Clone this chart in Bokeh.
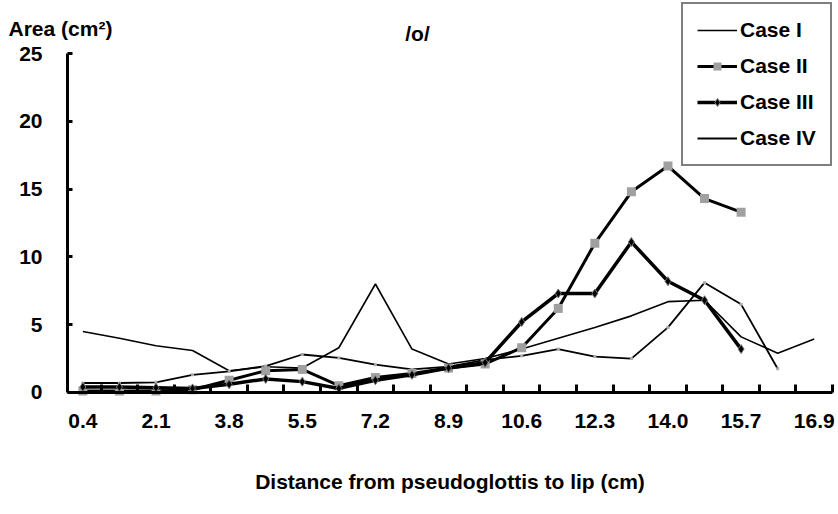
from bokeh.plotting import figure
from bokeh.models import (Range1d, FixedTicker, Legend, LegendItem, Label)
from bokeh.embed import file_html
from bokeh.resources import INLINE

# ---- data ----
tick_labels = ["0.4", "2.1", "3.8", "5.5", "7.2", "8.9", "10.6", "12.3", "14.0", "15.7", "16.9"]
y_ticks = [0, 5, 10, 15, 20, 25]

case1 = [4.5, 4.0, 3.45, 3.1, 1.6, 1.9, 1.8, 3.3, 8.0, 3.2, 2.1, 2.5, 3.2, 4.0, 4.8, 5.65, 6.7, 6.8, 4.1, 2.9, 3.95]
case2 = [0.1, 0.1, 0.1, 0.2, 0.9, 1.6, 1.7, 0.5, 1.1, 1.4, 1.8, 2.1, 3.3, 6.2, 11.0, 14.8, 16.7, 14.3, 13.3]
case3 = [0.4, 0.4, 0.35, 0.3, 0.6, 1.0, 0.8, 0.3, 0.9, 1.3, 1.8, 2.2, 5.2, 7.3, 7.3, 11.1, 8.2, 6.8, 3.2]
case4 = [0.7, 0.7, 0.75, 1.3, 1.55, 1.95, 2.8, 2.55, 2.05, 1.7, 1.9, 2.4, 2.7, 3.2, 2.65, 2.5, 4.8, 8.1, 6.5, 1.75]

n_cat = len(case1)
FONT = "Liberation Sans"
FS = "21px"

X0 = -0.42            # where the value axis sits (left edge of first category)
X_END = n_cat - 0.5   # right edge of last category
Y_MAX = 25

p = figure(width=838, height=514, output_backend="svg", toolbar_location=None,
           x_range=Range1d(-2.252, 20.663), y_range=Range1d(-9.0, 28.91),
           min_border_left=0, min_border_right=0, min_border_top=0, min_border_bottom=0)
p.outline_line_color = None
p.xgrid.visible = False
p.ygrid.visible = False
p.background_fill_color = "white"
p.border_fill_color = "white"

def xs(arr):
    return list(range(len(arr)))

r1 = p.line(xs(case1), case1, line_color="black", line_width=1.6)
r4 = p.line(xs(case4), case4, line_color="black", line_width=1.8)
r4m = p.scatter(xs(case4), case4, marker="square", size=3, fill_color="#aaaaaa", line_color=None)
r2 = p.line(xs(case2), case2, line_color="black", line_width=3)
r2m = p.scatter(xs(case2), case2, marker="square", size=9, fill_color="#a0a0a0", line_color=None)
r3 = p.line(xs(case3), case3, line_color="black", line_width=3.5)
r3m = p.scatter(xs(case3), case3, marker="diamond", size=9, fill_color="black", line_color="#777777")

# x axis: labels every other category, tick marks at category boundaries (inside)
xax = p.xaxis[0]
label_pos = [2 * i for i in range(len(tick_labels))]
xax.fixed_location = 0
xax.ticker = FixedTicker(ticks=label_pos, minor_ticks=[i + 0.5 for i in range(n_cat)])
xax.bounds = (X0, X_END)
xax.major_label_overrides = {pos: lab for pos, lab in zip(label_pos, tick_labels)}
xax.major_tick_in = 0
xax.major_tick_out = 0
xax.minor_tick_in = 8
xax.minor_tick_out = 0
xax.minor_tick_line_width = 3
xax.minor_tick_line_color = "black"
xax.axis_line_width = 3
xax.axis_line_color = "black"
xax.major_label_text_font = FONT
xax.major_label_text_font_style = "bold"
xax.major_label_text_font_size = FS
xax.major_label_text_color = "black"
xax.major_label_standoff = 22
xax.axis_label = "Distance from pseudoglottis to lip (cm)"
xax.axis_label_text_font = FONT
xax.axis_label_text_font_style = "bold"
xax.axis_label_text_font_size = FS
xax.axis_label_text_color = "black"
xax.axis_label_standoff = 38

yax = p.yaxis[0]
yax.fixed_location = X0
yax.bounds = (0, Y_MAX)
yax.ticker = FixedTicker(ticks=y_ticks)
yax.major_tick_in = 5
yax.major_tick_out = 0
yax.major_tick_line_width = 3
yax.minor_tick_in = 0
yax.minor_tick_out = 0
yax.axis_line_width = 3
yax.axis_line_color = "black"
yax.major_label_text_font = FONT
yax.major_label_text_font_style = "bold"
yax.major_label_text_font_size = FS
yax.major_label_text_color = "black"
yax.major_label_standoff = 25

# texts above the plot
p.add_layout(Label(x=-2.033, y=26.84, text="Area (cm²)", text_font=FONT, text_font_style="bold",
                   text_font_size=FS, text_baseline="middle", text_align="left", text_color="black"))
p.add_layout(Label(x=9.15, y=26.47, text="/o/", text_font=FONT, text_font_style="bold",
                   text_font_size=FS, text_baseline="middle", text_align="center", text_color="black"))

legend = Legend(items=[
    LegendItem(label="Case I", renderers=[r1]),
    LegendItem(label="Case II", renderers=[r2, r2m]),
    LegendItem(label="Case III", renderers=[r3, r3m]),
    LegendItem(label="Case IV", renderers=[r4]),
], location=(681, 348))
legend.label_text_font = FONT
legend.label_text_font_style = "bold"
legend.label_text_font_size = FS
legend.label_text_color = "black"
legend.glyph_width = 40
legend.glyph_height = 20
legend.label_height = 20
legend.spacing = 12
legend.padding = 14
legend.margin = 0
legend.label_standoff = 3
legend.border_line_color = "black"
legend.border_line_width = 2
legend.background_fill_color = "white"
legend.background_fill_alpha = 1
p.add_layout(legend, "center")

open("out.html", "w").write(file_html(p, INLINE))
